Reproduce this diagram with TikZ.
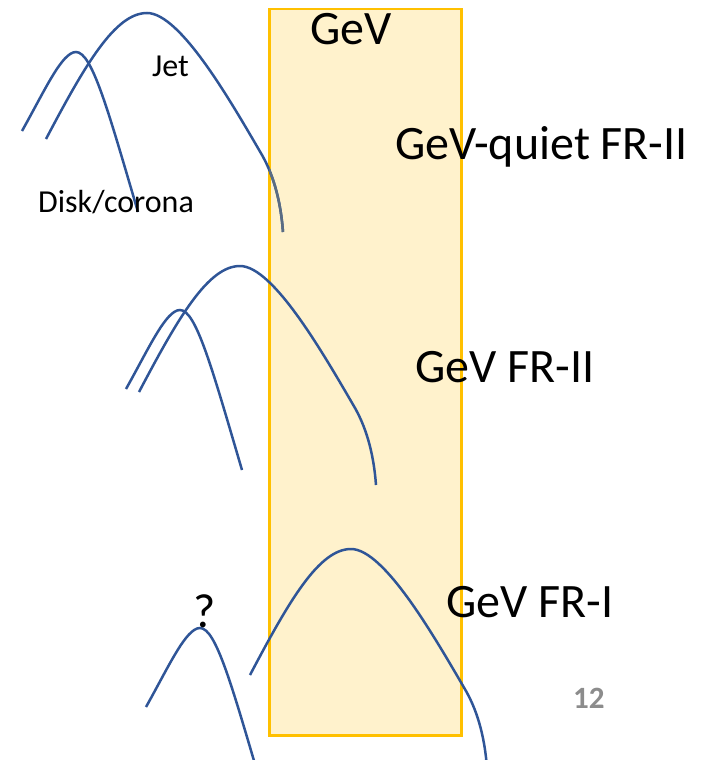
\documentclass[tikz,border=0pt]{standalone}
\usepackage{xcolor}
\usepackage{fontspec}
\setmainfont{Carlito}
\usepackage{tikz}
\usetikzlibrary{positioning}

\definecolor{curveblue}{HTML}{2F5597}
\definecolor{fadedblue}{HTML}{5A6C82}
\definecolor{bandfill}{HTML}{FFF2CC}
\definecolor{bandedge}{HTML}{FFC000}
\definecolor{pagegray}{HTML}{8C8C8C}

\newcommand{\diskpath}{(22,131) .. controls (45,90) and (62,52) .. (76,52) .. controls (92,52) and (108,110) .. (138,212)}
\newcommand{\jetpath}{(46,139) .. controls (85,65) and (115,13) .. (147,13) .. controls (180,13) and (230,100) .. (262,155) .. controls (275,178) and (281,205) .. (283,232)}

\begin{document}
\begin{tikzpicture}[x=1pt, y=-1pt,
    spectrum/.style={draw=curveblue, line width=2.5pt},
    gevband/.style={draw=bandedge, fill=bandfill, line width=2.5pt, rectangle, inner sep=0pt, minimum width=192pt, minimum height=726pt},
    biglabel/.style={font=\fontsize{48}{58}\selectfont, inner sep=0pt},
    smalllabel/.style={font=\fontsize{32}{38}\selectfont, inner sep=0pt}]

        \clip (0,0) rectangle (704,760);

        % GeV band
        \node[gevband, anchor=north west] (band) at (268,8) {};

        % top: GeV-quiet FR-II
        \draw[spectrum] \diskpath;
        \draw[spectrum] \jetpath;
        \begin{scope}
            \clip (269,8) rectangle (460,734);
            \draw[spectrum, draw=fadedblue] \jetpath;
        \end{scope}

        % middle: GeV FR-II
        \draw[spectrum, shift={(104,258)}] \diskpath;
        \draw[spectrum, shift={(93,253)}] \jetpath;

        % bottom: GeV FR-I
        \draw[spectrum, shift={(124,576)}] \diskpath;
        \draw[spectrum, shift={(204,536)}] \jetpath;

        % labels
        \node[biglabel, anchor=base west] (gev) at (310,45) {GeV};
        \node[smalllabel, anchor=base west] (jet) at (152,76) {Jet};
        \node[smalllabel, anchor=base west] (disk) at (38,212) {Disk/corona};
        \node[biglabel, anchor=base west] (quiet) at (395,159) {GeV-quiet FR-II};
        \node[biglabel, anchor=base west] (frtwo) at (415,382) {GeV FR-II};
        \node[biglabel, anchor=base west] (frone) at (446,617) {GeV FR-I};
        \node[biglabel, anchor=base] (unknown) at (205,627) {?};
        \node[font=\fontsize{31}{37}\selectfont\bfseries, text=pagegray, inner sep=0pt, anchor=base west] (page) at (573,708) {12};
    \end{tikzpicture}
\end{document}
